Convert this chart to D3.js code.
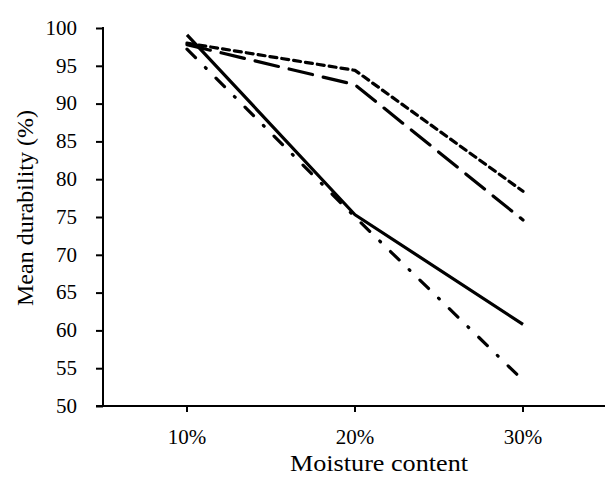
<!DOCTYPE html>
<html>
<head>
<meta charset="utf-8">
<script src="https://cdn.jsdelivr.net/npm/d3@7"></script>
<style>
  html, body { margin: 0; padding: 0; background: #fff; }
  svg { display: block; }
  text { font-family: "Liberation Serif", "DejaVu Serif", serif; fill: #000; }
</style>
</head>
<body>
<svg id="chart" width="605" height="482"></svg>
<script>
// ---- data ----
const categories = ["10%", "20%", "30%"];
const solidSeries = [99.1, 75.3, 60.8];
const dashDotSeries = [97.2, 75.0, 53.4];
const shortDashSeries = [98.0, 94.4, 78.4];
const longDashSeries = [97.8, 92.5, 74.6];
const yTicks = [50, 55, 60, 65, 70, 75, 80, 85, 90, 95, 100];
const xTitle = "Moisture content";
const yTitle = "Mean durability (%)";

const series = [
  { name: "solid", values: solidSeries, dash: null, cap: "butt" },
  { name: "dashdot", values: dashDotSeries, dash: "12,14,1,14", cap: "round" },
  { name: "shortdash", values: shortDashSeries, dash: "7,5", cap: "round" },
  { name: "longdash", values: longDashSeries, dash: "24,11", cap: "round" }
];

// ---- layout ----
const svg = d3.select("#chart");
const mLeft = 103, mRight = 607, mTop = 28, mBottom = 406;

const x = d3.scaleBand().domain(categories).range([mLeft, mRight]);
const y = d3.scaleLinear().domain([50, 100]).range([mBottom, mTop]);

// y axis
const yAxis = svg.append("g")
  .attr("transform", `translate(${mLeft},0)`)
  .call(d3.axisLeft(y).tickValues(yTicks).tickSize(7).tickSizeOuter(0).tickPadding(19));
yAxis.select(".domain").remove();
yAxis.selectAll(".tick line").attr("stroke", "#000").attr("stroke-width", 2);
yAxis.selectAll(".tick text").style("font-size", "21px").attr("dy", "0.3em");
svg.append("line")
  .attr("x1", mLeft).attr("x2", mLeft)
  .attr("y1", y(100) - 1).attr("y2", y(50))
  .attr("stroke", "#000").attr("stroke-width", 2);

// x axis
const xAxis = svg.append("g")
  .attr("transform", `translate(0,${mBottom})`)
  .call(d3.axisBottom(x).tickSize(6).tickSizeOuter(0).tickPadding(17));
xAxis.select(".domain").remove();
xAxis.selectAll(".tick line").attr("stroke", "#000").attr("stroke-width", 2);
xAxis.selectAll(".tick text").style("font-size", "21px");
svg.append("line")
  .attr("x1", mLeft - 7).attr("x2", 605)
  .attr("y1", mBottom).attr("y2", mBottom)
  .attr("stroke", "#000").attr("stroke-width", 2);

// lines
const line = d3.line()
  .x((d, i) => x(categories[i]) + x.bandwidth() / 2)
  .y(d => y(d));

svg.append("g").selectAll("path")
  .data(series)
  .join("path")
  .attr("d", d => line(d.values))
  .attr("fill", "none")
  .attr("stroke", "#000")
  .attr("stroke-width", 3.2)
  .attr("stroke-linecap", d => d.cap)
  .attr("stroke-linejoin", "round")
  .attr("stroke-dasharray", d => d.dash);

// titles
svg.append("text")
  .attr("x", 379).attr("y", 471)
  .attr("text-anchor", "middle")
  .attr("textLength", 178)
  .attr("lengthAdjust", "spacingAndGlyphs")
  .style("font-size", "23px")
  .text(xTitle);

svg.append("text")
  .attr("transform", `translate(33,208) rotate(-90)`)
  .attr("text-anchor", "middle")
  .style("font-size", "24px")
  .text(yTitle);
</script>
</body>
</html>
